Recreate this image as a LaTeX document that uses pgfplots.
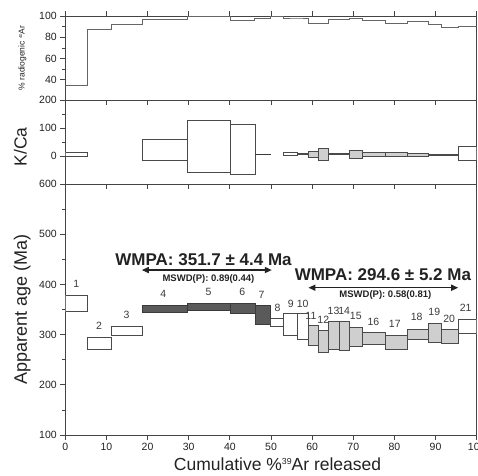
\documentclass[border=0pt]{standalone}
\usepackage{pgfplots}
\pgfplotsset{compat=1.18}
\usepackage{fontspec}
\setmainfont{Liberation Sans}
\usetikzlibrary{arrows.meta}
\definecolor{axc}{HTML}{444444}
\definecolor{txt}{HTML}{222222}
\definecolor{gfill}{HTML}{CFCFCF}
\definecolor{dfill}{HTML}{5A5A5A}
\definecolor{bline}{HTML}{4A4A4A}
\definecolor{labc}{HTML}{3A3A3A}
\newcommand{\sups}[1]{\raisebox{0.55ex}{\scalebox{0.5}{#1}}}
\tikzset{
  wbox/.style={draw=bline, fill=white, line width=0.8pt},
  gbox/.style={draw=bline, fill=gfill, line width=0.8pt},
  dbox/.style={draw=bline!80!black, fill=dfill, line width=0.8pt},
  stn/.style={font=\fontsize{10.5}{11}\selectfont, text=labc},
}
\pgfplotsset{
  panel/.style={
    scale only axis, width=411.4pt,
    xmin=0, xmax=100,
    xtick={0,10,...,100},
    axis line style={axc, line width=0.9pt},
    tick style={axc, line width=0.8pt},
    major tick length=5pt, minor tick length=3pt,
    ytick pos=left, ytick align=outside,
    tick label style={font=\fontsize{10.5}{11}\selectfont, text=txt},
    /pgf/number format/assume math mode=true,
    label style={text=txt},
  },
}
\begin{document}
\begin{tikzpicture}
\useasboundingbox (-65.3pt,-40pt) rectangle (412.7pt,435pt);
% ---------------- main panel ----------------
\begin{axis}[panel, at={(0pt,0pt)}, anchor=south west, height=251pt,
  ymin=100, ymax=600, ytick={100,200,...,600}, minor y tick num=1,
  xtick pos=lower, xtick align=outside,
  xlabel={Cumulative \%\sups{39}Ar released},
  ylabel={Apparent age (Ma)},
  xlabel style={font=\fontsize{17.5}{19}\selectfont, at={(axis description cs:0.516,0)}, anchor=base, yshift=-35pt},
  ylabel style={font=\fontsize{18}{20}\selectfont, at={(axis description cs:-0.105,0.5)}, anchor=center},
]
\addplot[wbox] coordinates {(0,346) (5.35,346) (5.35,379) (0,379)} -- cycle;
\addplot[wbox] coordinates {(5.35,270) (11.3,270) (11.3,295) (5.35,295)} -- cycle;
\addplot[wbox] coordinates {(11.3,299) (18.7,299) (18.7,317) (11.3,317)} -- cycle;
\addplot[dbox] coordinates {(18.7,344) (29.6,344) (29.6,359) (18.7,359)} -- cycle;
\addplot[dbox] coordinates {(29.6,349) (40.2,349) (40.2,362) (29.6,362)} -- cycle;
\addplot[dbox] coordinates {(40.2,342) (46.1,342) (46.1,362) (40.2,362)} -- cycle;
\addplot[dbox] coordinates {(46.1,321) (49.9,321) (49.9,358) (46.1,358)} -- cycle;
\addplot[wbox] coordinates {(49.9,317) (53.0,317) (53.0,333) (49.9,333)} -- cycle;
\addplot[wbox] coordinates {(53.0,299) (56.4,299) (56.4,343) (53.0,343)} -- cycle;
\addplot[wbox] coordinates {(56.4,290) (59.1,290) (59.1,343) (56.4,343)} -- cycle;
\addplot[gbox] coordinates {(59.1,278) (61.5,278) (61.5,318) (59.1,318)} -- cycle;
\addplot[gbox] coordinates {(61.5,265) (63.9,265) (63.9,308) (61.5,308)} -- cycle;
\addplot[gbox] coordinates {(63.9,271) (66.6,271) (66.6,327) (63.9,327)} -- cycle;
\addplot[gbox] coordinates {(66.6,269) (69.0,269) (69.0,327) (66.6,327)} -- cycle;
\addplot[gbox] coordinates {(69.0,277) (72.2,277) (72.2,315) (69.0,315)} -- cycle;
\addplot[gbox] coordinates {(72.2,280) (77.9,280) (77.9,305) (72.2,305)} -- cycle;
\addplot[gbox] coordinates {(77.9,271) (83.1,271) (83.1,299) (77.9,299)} -- cycle;
\addplot[gbox] coordinates {(83.1,290) (88.3,290) (88.3,311) (83.1,311)} -- cycle;
\addplot[gbox] coordinates {(88.3,285) (91.5,285) (91.5,323) (88.3,323)} -- cycle;
\addplot[gbox] coordinates {(91.5,283) (95.5,283) (95.5,310) (91.5,310)} -- cycle;
\addplot[wbox] coordinates {(95.5,302) (100,302) (100,331) (95.5,331)} -- cycle;
% step numbers
\node[stn] at (axis cs:2.7,401) {1};
\node[stn] at (axis cs:8.2,317) {2};
\node[stn] at (axis cs:14.9,340) {3};
\node[stn] at (axis cs:23.8,382) {4};
\node[stn] at (axis cs:34.8,385) {5};
\node[stn] at (axis cs:43.0,386) {6};
\node[stn] at (axis cs:47.7,380) {7};
\node[stn] at (axis cs:51.6,353) {8};
\node[stn] at (axis cs:54.8,362) {9};
\node[stn] at (axis cs:57.7,362) {10};
\node[stn] at (axis cs:59.7,338) {11};
\node[stn] at (axis cs:62.7,330) {12};
\node[stn] at (axis cs:65.2,348) {13};
\node[stn] at (axis cs:67.8,348) {14};
\node[stn] at (axis cs:70.6,338) {15};
\node[stn] at (axis cs:74.9,326) {16};
\node[stn] at (axis cs:80.1,322) {17};
\node[stn] at (axis cs:85.4,335) {18};
\node[stn] at (axis cs:89.7,345) {19};
\node[stn] at (axis cs:93.3,332) {20};
\node[stn] at (axis cs:97.3,353) {21};
% plateau annotations
\node[text=txt, font=\fontsize{17}{19}\selectfont\bfseries] at (axis cs:33.6,450) {WMPA: 351.7 ± 4.4 Ma};
\draw[txt, line width=1.5pt, {Triangle[length=7pt,width=6pt]}-{Triangle[length=7pt,width=6pt]}] (axis cs:18.6,428.6) -- (axis cs:50.2,428.6);
\node[text=txt, font=\fontsize{9.5}{10}\selectfont\bfseries] at (axis cs:34.8,410) {MSWD(P): 0.89(0.44)};
\node[text=txt, font=\fontsize{17}{19}\selectfont\bfseries] at (axis cs:77.2,419) {WMPA: 294.6 ± 5.2 Ma};
\draw[txt, line width=1.5pt, {Triangle[length=7pt,width=6pt]}-{Triangle[length=7pt,width=6pt]}] (axis cs:59.1,393.4) -- (axis cs:95.5,393.4);
\node[text=txt, font=\fontsize{9.5}{10}\selectfont\bfseries] at (axis cs:77.8,378) {MSWD(P): 0.58(0.81)};
\end{axis}
% ---------------- K/Ca panel ----------------
\begin{axis}[panel, at={(0pt,251pt)}, anchor=south west, height=84pt,
  ymin=-100, ymax=200, ytick={0,100,200}, minor y tick num=1,
  xtick pos=lower, xtick align=outside, xticklabels={},
  ylabel={K/Ca},
  ylabel style={font=\fontsize{17.5}{19}\selectfont, at={(axis description cs:-0.109,0.44)}, anchor=center},
]
\addplot[wbox] coordinates {(0,-1) (5.35,-1) (5.35,13) (0,13)} -- cycle;
\addplot[wbox] coordinates {(18.7,-17) (29.6,-17) (29.6,58) (18.7,58)} -- cycle;
\addplot[wbox] coordinates {(29.6,-58) (40.2,-58) (40.2,126) (29.6,126)} -- cycle;
\addplot[wbox] coordinates {(40.2,-64) (46.1,-64) (46.1,112) (40.2,112)} -- cycle;
\addplot[dbox] coordinates {(46.1,5) (49.9,5) (49.9,7) (46.1,7)} -- cycle;
\addplot[wbox] coordinates {(53.0,1) (56.4,1) (56.4,12) (53.0,12)} -- cycle;
\addplot[gbox] coordinates {(56.4,5) (59.1,5) (59.1,8) (56.4,8)} -- cycle;
\addplot[gbox] coordinates {(59.1,-4) (61.5,-4) (61.5,15) (59.1,15)} -- cycle;
\addplot[gbox] coordinates {(61.5,-14) (63.9,-14) (63.9,27) (61.5,27)} -- cycle;
\addplot[gbox] coordinates {(63.9,5) (66.6,5) (66.6,8) (63.9,8)} -- cycle;
\addplot[gbox] coordinates {(66.6,5) (69.0,5) (69.0,8) (66.6,8)} -- cycle;
\addplot[gbox] coordinates {(69.0,-8) (72.2,-8) (72.2,19) (69.0,19)} -- cycle;
\addplot[gbox] coordinates {(72.2,-2) (77.9,-2) (77.9,12) (72.2,12)} -- cycle;
\addplot[gbox] coordinates {(77.9,-2) (83.1,-2) (83.1,12) (77.9,12)} -- cycle;
\addplot[gbox] coordinates {(83.1,-1) (88.3,-1) (88.3,10) (83.1,10)} -- cycle;
\addplot[gbox] coordinates {(88.3,1) (91.5,1) (91.5,7) (88.3,7)} -- cycle;
\addplot[gbox] coordinates {(91.5,3) (95.5,3) (95.5,6) (91.5,6)} -- cycle;
\addplot[wbox] coordinates {(95.5,-14) (100,-14) (100,33) (95.5,33)} -- cycle;
\end{axis}
% ---------------- % radiogenic panel ----------------
\begin{axis}[panel, at={(0pt,335pt)}, anchor=south west, height=84pt,
  ymin=21, ymax=100, ytick={40,60,80,100}, minor y tick num=1,
  xtick pos=both, xtick align=outside, xticklabels={},
  ylabel={\% radiogenic \sups{40}Ar},
  ylabel style={font=\fontsize{8.5}{9}\selectfont, at={(axis description cs:-0.1045,0.5)}, anchor=center},
]
\addplot[const plot, draw=black!60, line width=1pt] coordinates {
(0,35) (5.35,87) (11.3,92) (18.7,97) (29.6,99.4) (40.2,96.2) (46.1,97.8)
(49.9,100) (53.0,97.2) (56.4,97.2) (59.1,93.1) (61.5,93.3) (63.9,96.9)
(66.6,96.9) (69.0,97.8) (72.2,95.6) (77.9,93.1) (83.1,95) (88.3,92.2)
(91.5,89) (95.5,90) (100,90)};
\end{axis}
\end{tikzpicture}
\end{document}
